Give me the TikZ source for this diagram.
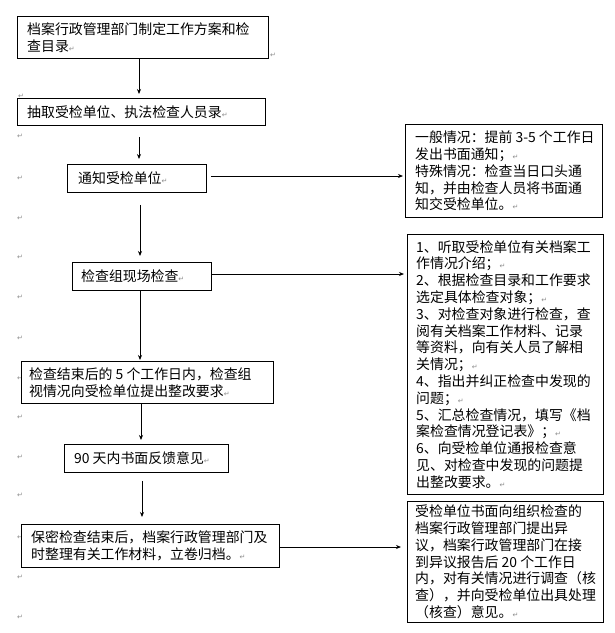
\documentclass[tikz,border=0pt]{standalone}
\usepackage{fontspec}
\setmainfont{Noto Sans CJK SC}
\newfontfamily\symfont{DejaVu Sans}
\usetikzlibrary{arrows.meta}
\definecolor{markgray}{HTML}{8C8C8C}
\newcommand\retmark{{\symfont\fontsize{7}{7}\selectfont\color{markgray}↵}}
\tikzset{
  box/.style={draw, line width=0.9pt, fill=white, inner sep=0pt, anchor=north west},
  txt/.style={anchor=west, align=left, inner sep=0pt, font=\fontsize{13.9}{16.8}\selectfont},
  arr/.style={line width=0.8pt, -{Stealth[length=5pt,width=4pt]}},
  mk/.style={inner sep=0pt, font=\symfont\fontsize{7}{7}\selectfont, text=markgray}
}
\begin{document}
\begin{tikzpicture}[x=1pt,y=-1pt]
\useasboundingbox (0,0) rectangle (615,633);
% stray paragraph marks
\node[mk] (m0) at (21,96) {↵};
\node[mk] (mt) at (273,55) {↵};
\foreach \yy [count=\i] in {136,178,218,257,297,338,378,417,457,495,537,577,617}
  \node[mk] (m\i) at (20,\yy) {↵};
% left column boxes
\node[box, minimum width=251pt, minimum height=42pt] (b1) at (17,16) {};
\node[box, minimum width=248pt, minimum height=27pt] (b2) at (17,98) {};
\node[box, minimum width=139pt, minimum height=28pt] (b3) at (67,164) {};
\node[box, minimum width=139pt, minimum height=28pt] (b4) at (72,262) {};
\node[box, minimum width=252pt, minimum height=42pt] (b5) at (21,361) {};
\node[box, minimum width=164pt, minimum height=28pt] (b6) at (64,444) {};
\node[box, minimum width=258pt, minimum height=43pt] (b7) at (21,524) {};
% right column boxes
\node[box, minimum width=197pt, minimum height=93pt] (r1) at (405,124) {};
\node[box, minimum width=196pt, minimum height=260pt] (r2) at (407,234) {};
\node[box, minimum width=196pt, minimum height=121pt] (r3) at (407,501) {};
% texts
\node[txt] (t1) at ([xshift=10pt]b1.west) {档案行政管理部门制定工作方案和检\\查目录\retmark};
\node[txt] (t2) at ([xshift=10pt]b2.west) {抽取受检单位、执法检查人员录\retmark};
\node[txt] (t3) at ([xshift=11pt]b3.west) {通知受检单位\retmark};
\node[txt] (t4) at ([xshift=9pt]b4.west) {检查组现场检查\retmark};
\node[txt] (t5) at ([xshift=8pt]b5.west) {检查结束后的 5 个工作日内，检查组\\视情况向受检单位提出整改要求\retmark};
\node[txt] (t6) at ([xshift=10pt]b6.west) {90 天内书面反馈意见\retmark};
\node[txt] (t7) at ([xshift=10pt]b7.west) {保密检查结束后，档案行政管理部门及\\时整理有关工作材料，立卷归档。\retmark};
\node[txt] (tr1) at ([xshift=10pt]r1.west) {一般情况：提前 3-5 个工作日\\发出书面通知；\retmark\\特殊情况：检查当日口头通\\知，并由检查人员将书面通\\知交受检单位。\retmark};
\node[txt] (tr2) at ([xshift=9pt]r2.west) {1、听取受检单位有关档案工\\作情况介绍；\retmark\\2、根据检查目录和工作要求\\选定具体检查对象；\retmark\\3、对检查对象进行检查，查\\阅有关档案工作材料、记录\\等资料，向有关人员了解相\\关情况；\retmark\\4、指出并纠正检查中发现的\\问题；\retmark\\5、汇总检查情况，填写《档\\案检查情况登记表》；\retmark\\6、向受检单位通报检查意\\见、对检查中发现的问题提\\出整改要求。\retmark};
\node[txt] (tr3) at ([xshift=8pt]r3.west) {受检单位书面向组织检查的\\档案行政管理部门提出异\\议，档案行政管理部门在接\\到异议报告后 20 个工作日\\内，对有关情况进行调查（核\\查），并向受检单位出具处理\\（核查）意见。\retmark};
% vertical arrows
\draw[arr, shorten >=4pt] (b1.south -| 139,0) -- (b2.north -| 139,0);
\draw[arr, shorten <=11pt, shorten >=5pt] (b2.south -| 139,0) -- (b3.north -| 139,0);
\draw[arr, shorten <=12pt, shorten >=6pt] (b3.south -| 140,0) -- (b4.north -| 140,0);
\draw[arr, shorten >=1pt] (b4.south -| 140,0) -- (b5.north -| 140,0);
\draw[arr, shorten >=4pt] (b5.south -| 141,0) -- (b6.north -| 141,0);
\draw[arr, shorten <=8pt, shorten >=7pt] (b6.south -| 142,0) -- (b7.north -| 142,0);
% horizontal arrows
\draw[arr, shorten <=4pt, shorten >=2pt] (b3.east |- 0,176) -- (r1.west |- 0,176);
\draw[arr, shorten >=3pt] (b4.east |- 0,274) -- (r2.west |- 0,274);
\draw[arr, shorten >=6pt] (b7.east |- 0,547) -- (r3.west |- 0,547);
\end{tikzpicture}
\end{document}
